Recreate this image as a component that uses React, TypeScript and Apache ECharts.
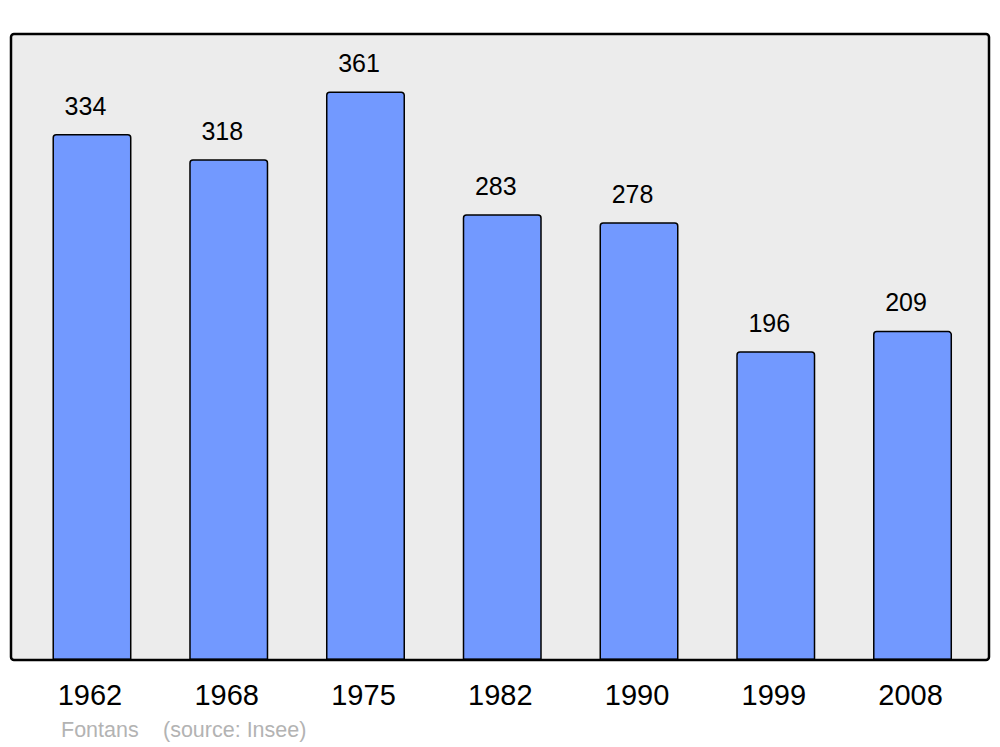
import React, { useEffect, useRef } from "react";
import * as echarts from "echarts";

const years = ["1962", "1968", "1975", "1982", "1990", "1999", "2008"];
const population = [334, 318, 361, 283, 278, 196, 209];
const townName = "Fontans";
const sourceText = "(source: Insee)";

export default function App() {
  const ref = useRef<HTMLDivElement>(null);
  useEffect(() => {
    if (!ref.current) return;
    const chart = echarts.init(ref.current, null, { renderer: "svg" });
    const font = "'Liberation Sans', Arial, sans-serif";
    chart.setOption({
      animation: false,
      textStyle: { fontFamily: font },
      grid: { left: 23.6, right: 19.1, top: 34, bottom: 87 },
      xAxis: {
        type: "category",
        data: years,
        axisLine: { show: false },
        axisTick: { show: false },
        axisLabel: { color: "#000", fontSize: 29, margin: 20, padding: [0, 4, 0, 0], fontFamily: font },
      },
      yAxis: {
        type: "value",
        min: 0,
        max: 397.5,
        show: false,
        splitLine: { show: false },
      },
      graphic: [
        {
          type: "rect",
          z: -10,
          silent: true,
          shape: { x: 11, y: 34, width: 978, height: 626, r: 3 },
          style: { fill: "#ececec", stroke: "none" },
        },
        {
          type: "rect",
          z: 100,
          silent: true,
          shape: { x: 11, y: 34, width: 978, height: 626, r: 3 },
          style: { fill: "none", stroke: "#000", lineWidth: 2.5 },
        },
        {
          type: "text",
          x: 61,
          y: 730,
          style: { text: townName, fill: "#b3b3b3", font: `21.5px ${font}`, textVerticalAlign: "middle" },
        },
        {
          type: "text",
          x: 163,
          y: 730,
          style: { text: sourceText, fill: "#b3b3b3", font: `21.5px ${font}`, textVerticalAlign: "middle" },
        },
      ],
      series: [
        {
          type: "bar",
          data: population,
          barWidth: 79,
          itemStyle: {
            color: "#7299ff",
            borderColor: "#000",
            borderWidth: 1.5,
            borderRadius: [3, 3, 0, 0],
          },
          label: {
            show: true,
            position: "top",
            distance: 16,
            offset: [-6.5, 0],
            color: "#000",
            fontSize: 25,
            fontFamily: font,
          },
        },
      ],
    });
    return () => chart.dispose();
  }, []);
  return (
    <div
      ref={ref}
      style={{ position: "fixed", left: 0, top: 0, width: 1000, height: 747, background: "#fff" }}
    />
  );
}
